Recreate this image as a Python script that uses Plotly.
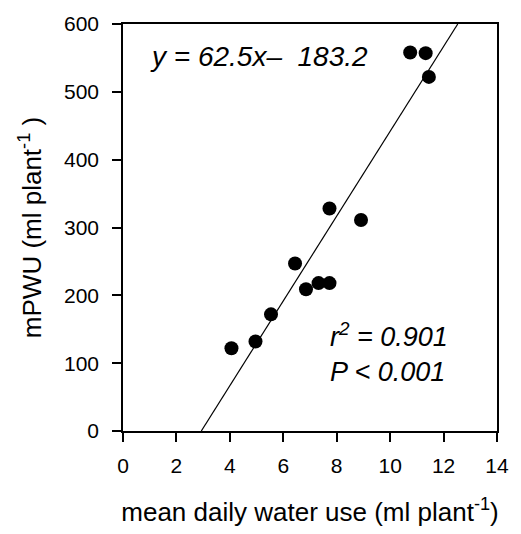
import plotly.graph_objects as go

water_use = [4.06, 4.96, 5.54, 6.44, 6.85, 7.32, 7.73, 7.73, 8.91, 10.75, 11.33, 11.45]
mpwu = [122, 132, 172, 247, 209, 218, 218, 328, 311, 558, 557, 522]
slope = 62.5
intercept = -183.2
y_range = [0, 600]
x_range = [0, 14]
x_ticks = [0, 2, 4, 6, 8, 10, 12, 14]
y_ticks = [0, 100, 200, 300, 400, 500, 600]

FONT = "Liberation Sans, Arial, sans-serif"

line_x = [(y_range[0] - intercept) / slope, (y_range[1] - intercept) / slope]
line_y = [slope * v + intercept for v in line_x]

fig = go.Figure()
fig.add_trace(go.Scatter(x=line_x, y=line_y, mode="lines",
                         line=dict(color="black", width=1.2), showlegend=False))
fig.add_trace(go.Scatter(x=water_use, y=mpwu, mode="markers",
                         marker=dict(color="black", size=14), showlegend=False))

ANN = 27
fig.add_annotation(x=0.92, y=552, xref="x", yref="y", xanchor="left", yanchor="middle",
                   text="<i>y = 62.5x–  183.2</i>", showarrow=False,
                   font=dict(family=FONT, size=28, color="black"))
fig.add_annotation(x=7.68, y=141, xref="x", yref="y", xanchor="left", yanchor="middle",
                   text="<i>r<sup>2</sup> = 0.901</i>", showarrow=False,
                   font=dict(family=FONT, size=ANN, color="black"))
fig.add_annotation(x=7.68, y=87, xref="x", yref="y", xanchor="left", yanchor="middle",
                   text="<i>P < 0.001</i>", showarrow=False,
                   font=dict(family=FONT, size=ANN, color="black"))

axis_common = dict(showgrid=False, zeroline=False, showline=True, linecolor="black",
                   linewidth=1.6, mirror=True, ticks="outside", ticklen=9, tickwidth=1.5,
                   tickcolor="black", tickfont=dict(family=FONT, size=21, color="black"))

fig.update_xaxes(range=x_range, tickvals=x_ticks, ticklabelstandoff=6,
                 title=dict(text="mean daily water use (ml plant<sup>-1</sup>)",
                            font=dict(family=FONT, size=26, color="black"), standoff=27),
                 **axis_common)
fig.update_yaxes(range=y_range, tickvals=y_ticks, ticklabelstandoff=9,
                 title=dict(text="mPWU (ml plant<sup>-1</sup> )",
                            font=dict(family=FONT, size=26, color="black"), standoff=15),
                 **axis_common)

fig.update_layout(width=521, height=534, margin=dict(l=123, r=13, t=16, b=101),
                  plot_bgcolor="white", paper_bgcolor="white")

fig.write_html("out.html")
